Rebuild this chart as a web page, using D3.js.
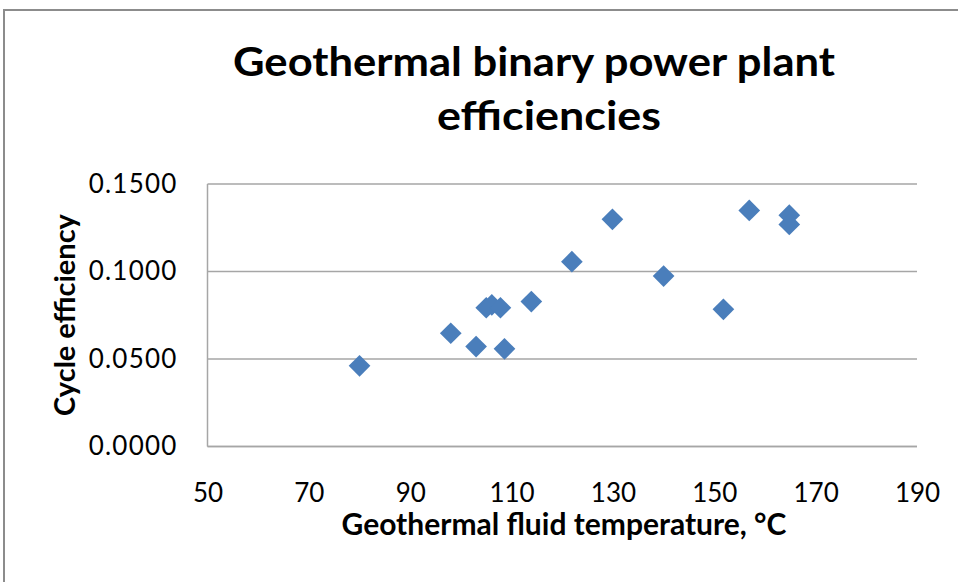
<!DOCTYPE html>
<html>
<head>
<meta charset="utf-8">
<script src="https://cdn.jsdelivr.net/npm/d3@7"></script>
<style>
  body { margin: 0; background: #fff; }
  svg { display: block; font-family: Lato, "Open Sans", sans-serif; }
</style>
</head>
<body>
<svg width="958" height="582"></svg>
<script>
// Data
let temperatures = [80, 98, 103, 108.6, 105, 106.1, 107.8, 113.9, 121.9, 129.9, 140, 151.8, 156.9, 164.8, 164.8];
let efficiencies = [0.0461, 0.0647, 0.0571, 0.0558, 0.0793, 0.0809, 0.0793, 0.0828, 0.1056, 0.1298, 0.0974, 0.0784, 0.1349, 0.1322, 0.1269];
let xTicks = [50, 70, 90, 110, 130, 150, 170, 190];
let yTicks = [0, 0.05, 0.10, 0.15];
let titleLines = ["Geothermal binary power plant", "efficiencies"];

let points = temperatures.map((t, i) => ({t: t, e: efficiencies[i]}));

// The svg
let svg = d3.select("svg");

// Outer chart frame
svg.append("rect")
    .attr("x", 4)
    .attr("y", 10)
    .attr("width", 1000)
    .attr("height", 700)
    .attr("fill", "#fff")
    .attr("stroke", "#8c8c8c")
    .attr("stroke-width", 2);

// Scales
let x = d3.scaleLinear().domain([50, 190]).range([207.5, 917]);
let y = d3.scaleLinear().domain([0, 0.15]).range([446.5, 184]);

// Gridlines
svg.append("g")
    .selectAll("line")
    .data(yTicks)
    .join("line")
    .attr("x1", x(50))
    .attr("x2", x(190))
    .attr("y1", d => y(d))
    .attr("y2", d => y(d))
    .attr("stroke", "#a6a6a6")
    .attr("stroke-width", 1.5);

// Axes
let xAxis = svg.append("g")
    .attr("transform", `translate(0,${y(0)})`)
    .call(d3.axisBottom(x).tickValues(xTicks).tickSize(0).tickPadding(37));
let yAxis = svg.append("g")
    .attr("transform", `translate(${x(50)},0)`)
    .call(d3.axisLeft(y).tickValues(yTicks).tickSize(0).tickPadding(30).tickFormat(d3.format(".4f")));

[xAxis, yAxis].forEach(a => {
    a.select(".domain").attr("stroke", "#a6a6a6").attr("stroke-width", 1.5);
    a.selectAll("text")
        .attr("font-family", "Lato, 'Open Sans', sans-serif")
        .attr("font-size", 26)
        .attr("fill", "#000");
});
yAxis.selectAll("text").attr("letter-spacing", 1.2);
xAxis.select(".domain").attr("d", `M${x(50)},0H${x(190)}`);
yAxis.select(".domain").attr("d", `M0,${y(0)}V${y(0.15)}`);

// Points
svg.append("g")
    .selectAll("path")
    .data(points)
    .join("path")
    .attr("transform", d => `translate(${x(d.t)},${y(d.e)})`)
    .attr("d", d3.symbol().type(d3.symbolDiamond2).size(300))
    .attr("fill", "#4a7ebb");

// Title
let titleWidths = [602, 224];
svg.append("text")
    .attr("text-anchor", "middle")
    .attr("font-weight", "bold")
    .attr("font-size", 40)
    .selectAll("tspan")
    .data(titleLines)
    .join("tspan")
    .attr("x", (d, i) => i === 0 ? 534 : 549)
    .attr("y", (d, i) => 76 + i * 54)
    .attr("textLength", (d, i) => titleWidths[i])
    .attr("lengthAdjust", "spacingAndGlyphs")
    .text(d => d);

// Axis titles
svg.append("text")
    .attr("x", 564)
    .attr("y", 535)
    .attr("text-anchor", "middle")
    .attr("font-weight", "bold")
    .attr("font-size", 30)
    .text("Geothermal fluid temperature, °C");

svg.append("text")
    .attr("transform", "translate(75,315) rotate(-90)")
    .attr("text-anchor", "middle")
    .attr("font-weight", "bold")
    .attr("font-size", 29)
    .text("Cycle efficiency");
</script>
</body>
</html>
